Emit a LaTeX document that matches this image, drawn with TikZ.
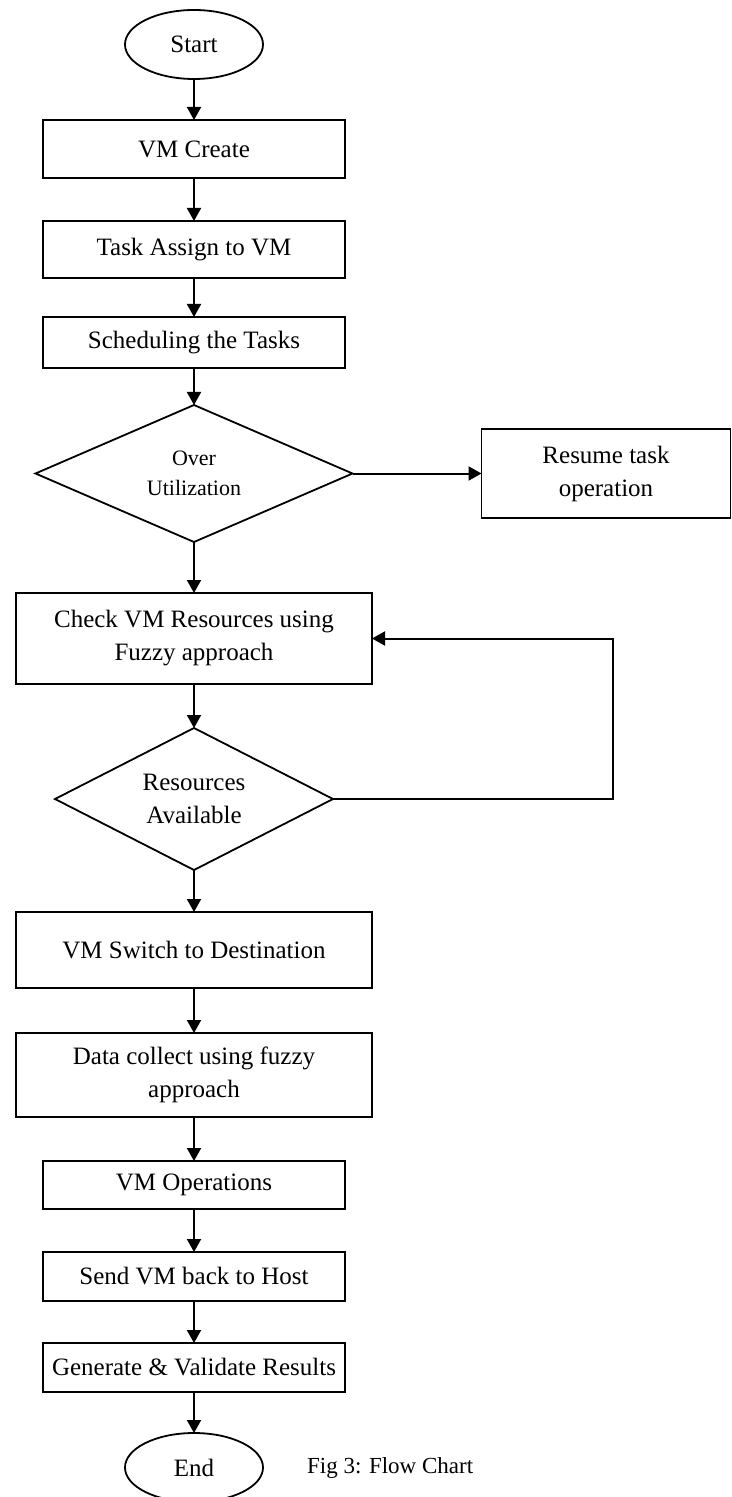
\documentclass[tikz,border=0pt]{standalone}
\usepackage{fontspec}
\setmainfont{Liberation Serif}
\usetikzlibrary{positioning}
\usetikzlibrary{shapes.geometric}
\usetikzlibrary{arrows.meta}

\begin{document}
\begin{tikzpicture}[
    font = \fontsize{12.5}{16.5}\selectfont,
    >={Triangle[length=6.5pt,width=7pt]},
    termf/.style = {
      ellipse,
      draw,
      line width=0.9pt,
      minimum width=69pt,
      minimum height=34.5pt,
      inner sep=0pt,
      outer sep=0pt
    },
    procf/.style = {
      rectangle,
      draw,
      line width=0.9pt,
      minimum width=151pt,
      minimum height=24.5pt,
      inner sep=0pt,
      outer sep=0pt,
      align=center
    },
    widef/.style = {
      procf,
      minimum width=178pt
    },
    decf/.style = {
      diamond,
      draw,
      line width=0.9pt,
      inner sep=0pt,
      outer sep=0pt,
      align=center
    },
    flow/.style = {
      ->,
      line width=1pt
    }
  ]
    \useasboundingbox (0,0) rectangle (366pt,-748.5pt);

    \node[termf] (start) at (97pt,-22.25pt) {Start};
    \node[procf, minimum height=29pt] (create) [below=20.5pt of start] {VM Create};
    \node[procf, minimum height=28.5pt] (assign) [below=21.5pt of create] {Task Assign to VM};
    \node[procf, minimum height=25.5pt] (sched) [below=19.5pt of assign] {Scheduling the Tasks};
    \node[decf, minimum width=158.5pt, minimum height=68.5pt, aspect=2.3,
      font=\fontsize{11}{15}\selectfont] (over) [below=18.5pt of sched] {Over\\Utilization};
    \node[procf, minimum width=124.5pt, minimum height=44.5pt] (resume) [right=64.5pt of over] {Resume task\\operation};
    \node[widef, minimum height=45.5pt] (check) [below=25.5pt of over] {Check VM Resources using\\Fuzzy approach};
    \node[decf, minimum width=139pt, minimum height=71pt, aspect=1.96] (avail) [below=22pt of check] {Resources\\Available};
    \node[widef, minimum height=38pt] (switch) [below=21pt of avail] {VM Switch to Destination};
    \node[widef, minimum height=42pt] (collect) [below=22.5pt of switch] {Data collect using fuzzy\\approach};
    \node[procf, minimum height=24pt] (ops) [below=22pt of collect] {VM Operations};
    \node[procf] (send) [below=21.5pt of ops] {Send VM back to Host};
    \node[procf] (gen) [below=21pt of send] {Generate \& Validate Results};
    \node[termf] (stop) [below=20.5pt of gen] {End};
    \node[font=\fontsize{11.5}{14}\selectfont] (caption) [right=18.5pt of stop] {Fig 3: Flow Chart};

    \coordinate [right=140pt of avail.east] (loopc);

    \draw[flow] (start) -- (create);
    \draw[flow] (create) -- (assign);
    \draw[flow] (assign) -- (sched);
    \draw[flow] (sched) -- (over);
    \draw[flow] (over) -- (resume);
    \draw[flow] (over) -- (check);
    \draw[flow] (check) -- (avail);
    \draw[flow] (avail.east) -- (loopc) |- (check.east);
    \draw[flow] (avail) -- (switch);
    \draw[flow] (switch) -- (collect);
    \draw[flow] (collect) -- (ops);
    \draw[flow] (ops) -- (send);
    \draw[flow] (send) -- (gen);
    \draw[flow] (gen) -- (stop);

  \end{tikzpicture}
\end{document}
